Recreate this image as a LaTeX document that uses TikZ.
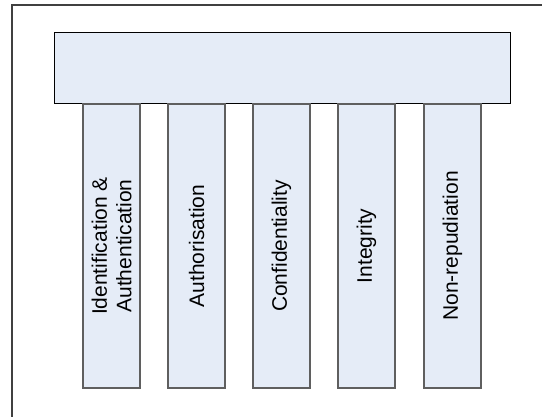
\documentclass[tikz,border=0pt]{standalone}
\usepackage{fontspec}
\setmainfont{Liberation Sans}
\usepackage{xcolor}
\usepackage{tikz}
\usetikzlibrary{positioning}

\definecolor{pillarfill}{HTML}{E5ECF7}
\definecolor{pillarline}{HTML}{5F5F5F}

\tikzset{
  roofbox/.style={draw=black, fill=pillarfill, line width=1pt, minimum width=456pt, minimum height=71pt, inner sep=0pt},
  pillarbox/.style={draw=pillarline, fill=pillarfill, line width=1.1pt, rotate=90, minimum width=284pt, minimum height=57pt,
    inner sep=0pt, align=center, font=\fontsize{21}{24.5}\selectfont}
}

\begin{document}
\begin{tikzpicture}[x=1pt, y=1pt]
  \useasboundingbox (0,0) rectangle (542,417);
  \clip (0,0) rectangle (542,417);
  % outer frame
  \draw[black!75, line width=1.1pt] (12,-20) |- (560,412);
  % roof
  \node[roofbox] (roof) at (282,348.5) {};
  % pillars
  \foreach \i/\xc/\txt in {1/111.5/{Identification \&\\Authentication}, 2/196.5/Authorisation,
      3/281.5/Confidentiality, 4/366.5/Integrity, 5/452.5/Non-repudiation}
    \node[pillarbox] (pillar\i) at (\xc,171) {\txt};
\end{tikzpicture}
\end{document}
